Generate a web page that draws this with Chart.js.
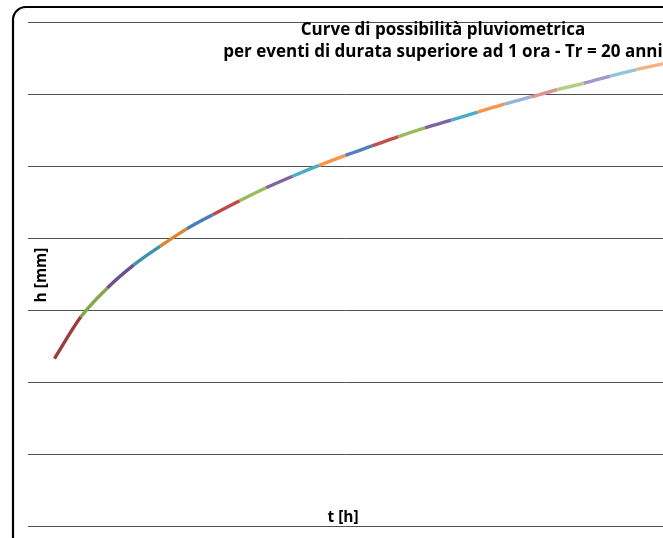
<!DOCTYPE html>
<html>
<head>
<meta charset="utf-8">
<script src="https://cdn.jsdelivr.net/npm/chart.js@4/dist/chart.umd.min.js"></script>
<style>
  html, body { margin: 0; padding: 0; background: #fff; }
</style>
</head>
<body>
<canvas id="chart1"></canvas>
<script>
// durata [h] e altezza di pioggia [mm]
const durate = [1, 2, 3, 4, 5, 6, 7, 8, 9, 10, 11, 12, 13, 14, 15, 16, 17, 18, 19, 20, 21, 22, 23, 24];
const altezze = [23.3, 29.1, 33.1, 36.3, 38.9, 41.3, 43.3, 45.2, 47.0, 48.6, 50.1, 51.5, 52.8, 54.1, 55.3, 56.4, 57.5, 58.6, 59.6, 60.6, 61.5, 62.5, 63.4, 64.2];

// un colore per ogni tratto orario (serie di Excel)
const coloriTratti = [
  '#9c3b39', '#86a647', '#6b4f8e', '#3b93ad', '#e0842f',
  '#4a7ebb', '#be4b48', '#9bbb59', '#8064a2', '#4bacc6', '#f79646',
  '#4f81bd', '#c0504d', '#9bbb59', '#8064a2', '#4bacc6', '#f79646',
  '#95b3d7', '#d99694', '#b5cf86', '#a797c6', '#8ec6da', '#f8b083',
];

const titolo = ['Curve di possibilità pluviometrica', 'per eventi di durata superiore ad 1 ora - Tr = 20 anni'];
const etichettaX = 't [h]';
const etichettaY = 'h [mm]';

const canvas = document.getElementById('chart1');
canvas.width = 663;
canvas.height = 538;
const ctx = canvas.getContext('2d');

// cornice arrotondata e testi dentro l'area del grafico
const cornice = {
  id: 'cornice',
  beforeDraw(chart) {
    const c = chart.ctx;
    c.save();
    c.fillStyle = '#fff';
    c.fillRect(0, 0, chart.width, chart.height);
    c.restore();
  },
  afterDraw(chart) {
    const c = chart.ctx;
    c.save();
    c.strokeStyle = '#000';
    c.lineWidth = 2.2;
    c.beginPath();
    c.roundRect(13, 7, 720, 560, 13);
    c.stroke();

    c.fillStyle = '#000';
    c.textAlign = 'center';
    c.textBaseline = 'alphabetic';
    c.font = 'bold 17px "Open Sans"';
    c.fillText(titolo[0], 443, 35);
    c.fillText(titolo[1], 443, 57);

    c.font = 'bold 15.5px "Open Sans"';
    c.fillText(etichettaX, 343, 522);

    c.translate(42, 275);
    c.rotate(-Math.PI / 2);
    c.textBaseline = 'middle';
    c.fillText(etichettaY, 0, 0);
    c.restore();
  },
};

new Chart(ctx, {
  type: 'line',
  data: {
    datasets: [{
      data: durate.map((t, i) => ({ x: t, y: altezze[i] })),
      borderColor: coloriTratti[0],
      borderWidth: 3.4,
      pointRadius: 0,
      cubicInterpolationMode: 'monotone',
      segment: {
        borderColor: (s) => coloriTratti[s.p0DataIndex],
      },
    }],
  },
  options: {
    responsive: false,
    maintainAspectRatio: false,
    animation: false,
    layout: {
      padding: { left: 28, top: 22, right: 0, bottom: 11.5 },
    },
    plugins: {
      legend: { display: false },
      tooltip: { enabled: false },
    },
    scales: {
      x: {
        type: 'linear',
        min: 0,
        max: 24,
        display: false,
      },
      y: {
        min: 0,
        max: 70,
        ticks: { stepSize: 10, display: false },
        grid: { color: '#505050', lineWidth: 1, drawTicks: false },
        border: { display: false },
      },
    },
  },
  plugins: [cornice],
});
</script>
</body>
</html>
